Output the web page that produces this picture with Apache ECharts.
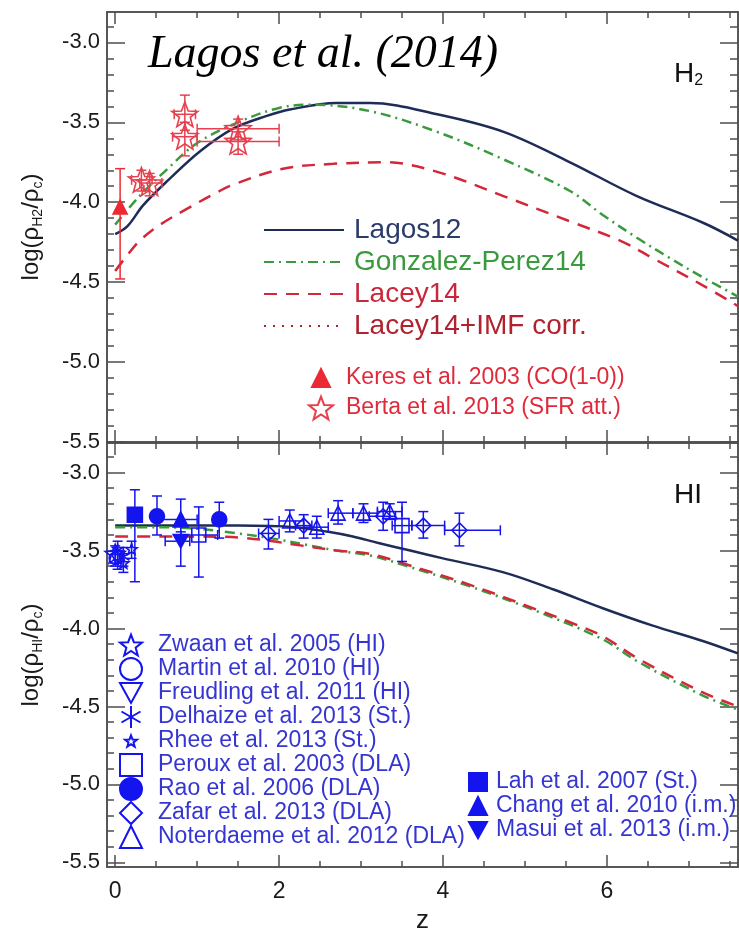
<!DOCTYPE html>
<html>
<head>
<meta charset="utf-8">
<script src="https://cdn.jsdelivr.net/npm/echarts@6/dist/echarts.min.js"></script>
<style>
  html, body { margin: 0; padding: 0; background: #ffffff; }
  #chart { width: 739px; height: 935px; }
</style>
</head>
<body>
<div id="chart"></div>
<script>
// ---------- axis ticks ----------
const xMajorTicks = [0, 2, 4, 6];
const xMinorTicks = [0.5, 1, 1.5, 2.5, 3, 3.5, 4.5, 5, 5.5, 6.5, 7, 7.5];
const yMajorTicks = [-5.5, -5.0, -4.5, -4.0, -3.5, -3.0];
const yMinorTicks = [-5.4, -5.3, -5.2, -5.1, -4.9, -4.8, -4.7, -4.6, -4.4, -4.3, -4.2, -4.1,
                     -3.9, -3.8, -3.7, -3.6, -3.4, -3.3, -3.2, -3.1, -2.9];

// ---------- model curves: H2 panel ----------
const lagosH2Z = [0, 0.15, 0.34, 0.63, 1.04, 1.44, 1.85, 2.13, 2.7, 3.11, 3.93, 4.74, 5.55, 6.36, 7.18, 7.6];
const lagosH2  = [-4.20, -4.15, -4.02, -3.87, -3.68, -3.54, -3.46, -3.42, -3.38, -3.38, -3.45, -3.56, -3.75, -3.96, -4.13, -4.24];
const gonzH2Z  = [0, 0.3, 0.6, 1.0, 1.5, 2.0, 2.4, 3.11, 3.93, 4.73, 5.55, 5.95, 6.36, 6.77, 7.17, 7.6];
const gonzH2   = [-4.14, -3.96, -3.81, -3.63, -3.50, -3.41, -3.39, -3.43, -3.56, -3.73, -3.93, -4.08, -4.22, -4.35, -4.47, -4.59];
const laceyH2Z = [0, 0.15, 0.3, 0.55, 0.88, 1.2, 1.44, 2.05, 2.66, 3.3, 3.93, 4.73, 5.55, 6.16, 6.56, 7.17, 7.6];
const laceyH2  = [-4.43, -4.33, -4.24, -4.14, -4.04, -3.95, -3.89, -3.79, -3.76, -3.75, -3.81, -3.96, -4.12, -4.24, -4.35, -4.52, -4.65];
const laceyImfH2Z = [];
const laceyImfH2  = [];

// ---------- model curves: HI panel ----------
const lagosHIZ = [0, 1, 1.5, 2.2, 2.6, 2.9, 3.2, 3.6, 4.0, 4.74, 5.35, 5.95, 6.55, 7.17, 7.6];
const lagosHI  = [-3.34, -3.34, -3.34, -3.35, -3.38, -3.41, -3.45, -3.50, -3.55, -3.64, -3.75, -3.87, -3.98, -4.08, -4.16];
const gonzHIZ  = [0, 0.5, 1.0, 1.5, 2.0, 2.3, 2.7, 3.1, 3.5, 4.33, 5.15, 5.95, 6.37, 7.17, 7.6];
const gonzHI   = [-3.35, -3.35, -3.36, -3.39, -3.43, -3.46, -3.50, -3.53, -3.59, -3.73, -3.89, -4.07, -4.21, -4.43, -4.52];
const laceyHIZ = [0, 0.5, 1.0, 1.6, 2.3, 2.7, 3.1, 3.5, 4.33, 5.15, 5.55, 5.95, 6.37, 7.17, 7.6];
const laceyHI  = [-3.41, -3.41, -3.41, -3.42, -3.47, -3.50, -3.52, -3.58, -3.72, -3.88, -3.96, -4.05, -4.19, -4.41, -4.50];

// ---------- observations: rows are [z, value, zLow, zHigh, valueLow, valueHigh] ----------
const keresH2 = [[0.06, -4.03, 0.06, 0.06, -4.48, -3.79]];
const bertaH2 = [
  [0.32, -3.86, 0.20, 0.45, -3.93, -3.80],
  [0.42, -3.88, 0.30, 0.57, -3.96, -3.82],
  [0.85, -3.45, 0.72, 0.98, -3.55, -3.33],
  [0.85, -3.59, 0.70, 1.00, -3.71, -3.50],
  [1.50, -3.54, 1.00, 2.00, -3.61, -3.48],
  [1.50, -3.62, 1.00, 2.00, -3.70, -3.56]
];
const zwaanHI     = [[0.00, -3.52, 0.00, 0.00, -3.58, -3.47]];
const martinHI    = [[0.00, -3.55, 0.00, 0.00, -3.60, -3.50]];
const freudlingHI = [[0.03, -3.56, 0.03, 0.03, -3.62, -3.50]];
const delhaizeHI  = [[0.03, -3.50, 0.03, 0.03, -3.56, -3.44], [0.10, -3.54, 0.10, 0.10, -3.60, -3.48]];
const rheeHI      = [[0.10, -3.58, 0.10, 0.10, -3.64, -3.52], [0.20, -3.49, 0.20, 0.20, -3.55, -3.44]];
const perouxHI    = [[1.02, -3.40, 0.80, 1.25, -3.67, -3.22], [3.50, -3.34, 3.38, 3.62, -3.57, -3.19]];
const raoHI       = [[0.51, -3.28, 0.51, 0.51, -3.40, -3.15], [1.27, -3.30, 1.27, 1.27, -3.42, -3.19]];
const zafarHI     = [
  [1.87, -3.39, 1.75, 2.00, -3.49, -3.30],
  [2.30, -3.34, 2.20, 2.40, -3.42, -3.27],
  [3.27, -3.28, 3.10, 3.42, -3.37, -3.19],
  [3.76, -3.34, 3.62, 4.02, -3.42, -3.25],
  [4.20, -3.37, 4.02, 4.70, -3.47, -3.26]
];
const noterdaemeHI = [
  [2.13, -3.31, 2.00, 2.30, -3.38, -3.24],
  [2.46, -3.35, 2.30, 2.60, -3.42, -3.28],
  [2.72, -3.26, 2.60, 2.90, -3.33, -3.18],
  [3.03, -3.26, 2.90, 3.20, -3.32, -3.20],
  [3.35, -3.25, 3.20, 3.50, -3.30, -3.20]
];
const lahHI   = [[0.24, -3.27, 0.24, 0.24, -3.70, -3.11]];
const changHI = [[0.80, -3.30, 0.53, 1.00, -3.41, -3.17]];
const masuiHI = [[0.80, -3.44, 0.61, 0.91, -3.60, -3.38]];

// ---------- styling ----------
const FONT = '"Liberation Sans", Arial, Helvetica, sans-serif';
const AXIS = '#4d4d4d';
const NAVY = '#1f2c57';
const GREEN = '#3a9a3e';
const RED = '#d3283a';
const DARKRED = '#b0222e';
const DATA_RED = '#ec2a33';
const STAR_RED = '#e6404e';
const TEXT_RED = '#e02a3c';
const BLUE = '#1414ee';
const TEXT_BLUE = '#3535d2';
const X_MIN = -0.1, X_MAX = 7.6;

function starPath(inner) {
  const pts = [];
  for (let i = 0; i < 10; i++) {
    const r = i % 2 === 0 ? 10 : 10 * inner;
    const a = -Math.PI / 2 + i * Math.PI / 5;
    pts.push((r * Math.cos(a)).toFixed(2) + ',' + (r * Math.sin(a)).toFixed(2));
  }
  return 'path://M' + pts.join('L') + 'Z';
}
const STAR = starPath(0.42);
const ASTERISK = 'path://M0,-10L0,10M-8.66,-5L8.66,5M-8.66,5L8.66,-5';
const TRI_DOWN = 'path://M0,0L10,0L5,9Z';

// ---------- axes ----------
function xAxisDef(grid, position, ticks, len, withLabels) {
  const ax = {
    type: 'value', gridIndex: grid, position: position, min: X_MIN, max: X_MAX,
    axisLine: { show: true, onZero: false, lineStyle: { color: AXIS, width: 1.5 } },
    axisTick: { show: true, inside: true, length: len, customValues: ticks,
                lineStyle: { color: AXIS, width: 1.5 } },
    axisLabel: { show: false },
    splitLine: { show: false }
  };
  if (withLabels) {
    ax.axisLabel = { show: true, customValues: xMajorTicks, margin: 13,
                     fontFamily: FONT, fontSize: 23, color: '#1a1a1a' };
    ax.name = 'z';
    ax.nameLocation = 'middle';
    ax.nameGap = 41;
    ax.nameTextStyle = { fontFamily: FONT, fontSize: 26, color: '#1a1a1a' };
  }
  return ax;
}
function yAxisDef(grid, position, ticks, len, min, withLabels, title) {
  const ax = {
    type: 'value', gridIndex: grid, position: position, min: min, max: -2.81,
    axisLine: { show: true, onZero: false, lineStyle: { color: AXIS, width: 1.5 } },
    axisTick: { show: true, inside: true, length: len, customValues: ticks,
                lineStyle: { color: AXIS, width: 1.5 } },
    axisLabel: { show: false },
    splitLine: { show: false }
  };
  if (withLabels) {
    ax.axisLabel = { show: true, customValues: yMajorTicks, margin: 7,
                     fontFamily: FONT, fontSize: 22, color: '#1a1a1a',
                     formatter: v => v.toFixed(1) };
    ax.name = title;
    ax.nameLocation = 'middle';
    ax.nameGap = 62;
    ax.nameTextStyle = {
      rich: {
        n: { fontFamily: FONT, fontSize: 24, color: '#1a1a1a', lineHeight: 28 },
        s: { fontFamily: FONT, fontSize: 14, color: '#1a1a1a', lineHeight: 12, verticalAlign: 'bottom' }
      }
    };
  }
  return ax;
}

const xAxes = [], yAxes = [];
[0, 1].forEach(g => {
  xAxes.push(xAxisDef(g, 'bottom', xMajorTicks, 12, g === 1));
  xAxes.push(xAxisDef(g, 'bottom', xMinorTicks, 6, false));
  xAxes.push(xAxisDef(g, 'top', xMajorTicks, 12, false));
  xAxes.push(xAxisDef(g, 'top', xMinorTicks, 6, false));
  const yMin = g === 0 ? -5.5 : -5.53;
  const title = g === 0 ? '{n|log(ρ}{s|H2}{n|/ρ}{s|c}{n|)}' : '{n|log(ρ}{s|HI}{n|/ρ}{s|c}{n|)}';
  yAxes.push(yAxisDef(g, 'left', yMajorTicks, 18, yMin, true, title));
  yAxes.push(yAxisDef(g, 'left', yMinorTicks, 7, yMin, false));
  yAxes.push(yAxisDef(g, 'right', yMajorTicks, 18, yMin, false));
  yAxes.push(yAxisDef(g, 'right', yMinorTicks, 8, yMin, false));
});

// ---------- series builders ----------
function lineSeries(name, zs, vs, color, dash, g) {
  return {
    type: 'line', name: name, xAxisIndex: g * 4, yAxisIndex: g * 4,
    data: zs.map((z, i) => [z, vs[i]]),
    symbol: 'none', smooth: 0.35, silent: true, z: 3,
    lineStyle: { color: color, width: 2.5, type: dash, cap: 'butt' },
    itemStyle: { color: color }
  };
}
function pointSeries(name, rows, symbol, size, fill, stroke, g) {
  return {
    type: 'scatter', name: name, xAxisIndex: g * 4, yAxisIndex: g * 4,
    data: rows.map(r => [r[0], r[1]]),
    symbol: symbol, symbolSize: size, symbolKeepAspect: true, silent: true, z: 5,
    itemStyle: { color: fill, borderColor: stroke, borderWidth: 1.6, opacity: 1 }
  };
}
function errorSeries(name, rows, color, g) {
  return {
    type: 'custom', name: name, xAxisIndex: g * 4, yAxisIndex: g * 4,
    data: rows, encode: { x: 0, y: 1 }, silent: true, z: 4,
    renderItem: function (params, api) {
      const z = api.value(0), v = api.value(1);
      const zLo = api.value(2), zHi = api.value(3), vLo = api.value(4), vHi = api.value(5);
      const cap = 5;
      const kids = [];
      const seg = (x1, y1, x2, y2) => kids.push({
        type: 'line', shape: { x1: x1, y1: y1, x2: x2, y2: y2 },
        style: { stroke: color, lineWidth: 1.5, fill: null }
      });
      if (vLo !== vHi) {
        const a = api.coord([z, vLo]), b = api.coord([z, vHi]);
        seg(a[0], a[1], b[0], b[1]);
        seg(a[0] - cap, a[1], a[0] + cap, a[1]);
        seg(b[0] - cap, b[1], b[0] + cap, b[1]);
      }
      if (zLo !== zHi) {
        const a = api.coord([zLo, v]), b = api.coord([zHi, v]);
        seg(a[0], a[1], b[0], b[1]);
        seg(a[0], a[1] - cap, a[0], a[1] + cap);
        seg(b[0], b[1] - cap, b[0], b[1] + cap);
      }
      return { type: 'group', children: kids };
    }
  };
}

const DASH_GREEN = [10, 5, 2, 5];
const DASH_RED = [13, 9];
const DOTS = [2, 7];
const OPEN = 'rgba(0,0,0,0)';

const series = [
  // H2 panel
  lineSeries('Lagos12', lagosH2Z, lagosH2, NAVY, 'solid', 0),
  lineSeries('Gonzalez-Perez14', gonzH2Z, gonzH2, GREEN, DASH_GREEN, 0),
  lineSeries('Lacey14', laceyH2Z, laceyH2, RED, DASH_RED, 0),
  lineSeries('Lacey14+IMF corr.', laceyImfH2Z, laceyImfH2, DARKRED, DOTS, 0),
  errorSeries('Keres errors', keresH2, DATA_RED, 0),
  errorSeries('Berta errors', bertaH2, STAR_RED, 0),
  pointSeries('Keres et al. 2003 (CO(1-0))', keresH2, 'triangle', 14, DATA_RED, DATA_RED, 0),
  pointSeries('Berta et al. 2013 (SFR att.)', bertaH2, STAR, 26, OPEN, STAR_RED, 0),
  // HI panel
  lineSeries('Lagos12', lagosHIZ, lagosHI, NAVY, 'solid', 1),
  lineSeries('Gonzalez-Perez14', gonzHIZ, gonzHI, GREEN, DASH_GREEN, 1),
  lineSeries('Lacey14', laceyHIZ, laceyHI, RED, DASH_RED, 1),
  errorSeries('Zwaan errors', zwaanHI, BLUE, 1),
  errorSeries('Martin errors', martinHI, BLUE, 1),
  errorSeries('Freudling errors', freudlingHI, BLUE, 1),
  errorSeries('Delhaize errors', delhaizeHI, BLUE, 1),
  errorSeries('Rhee errors', rheeHI, BLUE, 1),
  errorSeries('Peroux errors', perouxHI, BLUE, 1),
  errorSeries('Rao errors', raoHI, BLUE, 1),
  errorSeries('Zafar errors', zafarHI, BLUE, 1),
  errorSeries('Noterdaeme errors', noterdaemeHI, BLUE, 1),
  errorSeries('Lah errors', lahHI, BLUE, 1),
  errorSeries('Chang errors', changHI, BLUE, 1),
  errorSeries('Masui errors', masuiHI, BLUE, 1),
  pointSeries('Zwaan et al. 2005 (HI)', zwaanHI, STAR, 20, OPEN, BLUE, 1),
  pointSeries('Martin et al. 2010 (HI)', martinHI, 'circle', 12, OPEN, BLUE, 1),
  pointSeries('Freudling et al. 2011 (HI)', freudlingHI, TRI_DOWN, 12, OPEN, BLUE, 1),
  pointSeries('Delhaize et al. 2013 (St.)', delhaizeHI, ASTERISK, 14, OPEN, BLUE, 1),
  pointSeries('Rhee et al. 2013 (St.)', rheeHI, STAR, 11, OPEN, BLUE, 1),
  pointSeries('Peroux et al. 2003 (DLA)', perouxHI, 'rect', 14, OPEN, BLUE, 1),
  pointSeries('Rao et al. 2006 (DLA)', raoHI, 'circle', 15, BLUE, BLUE, 1),
  pointSeries('Zafar et al. 2013 (DLA)', zafarHI, 'diamond', 15, OPEN, BLUE, 1),
  pointSeries('Noterdaeme et al. 2012 (DLA)', noterdaemeHI, 'triangle', 14, OPEN, BLUE, 1),
  pointSeries('Lah et al. 2007 (St.)', lahHI, 'rect', 15, BLUE, BLUE, 1),
  pointSeries('Chang et al. 2010 (i.m.)', changHI, 'triangle', 15, BLUE, BLUE, 1),
  pointSeries('Masui et al. 2013 (i.m.)', masuiHI, TRI_DOWN, 15, BLUE, BLUE, 1)
];

// ---------- legends ----------
function legendDef(names, color, left, top, iconW, iconH, fontSize, lineHeight, textGap, lineOnly) {
  return {
    orient: 'vertical', left: left, top: top, padding: 0,
    itemWidth: iconW, itemHeight: iconH, itemGap: 0, selectedMode: false,
    data: names.map((n, i) => {
      const item = { name: n, textStyle: { color: Array.isArray(color) ? color[i] : color } };
      // line keys show only the stroke pattern, without a marker in the middle
      if (lineOnly) item.itemStyle = { opacity: 0 };
      return item;
    }),
    textStyle: { fontFamily: FONT, fontSize: fontSize, lineHeight: lineHeight, padding: [0, 0, 0, textGap] }
  };
}
const legends = [
  legendDef(['Lagos12', 'Gonzalez-Perez14', 'Lacey14', 'Lacey14+IMF corr.'],
            ['#2c3b6b', GREEN, '#c8283a', '#b0222e'], 263, 214, 80, 14, 28, 32, 5, true),
  legendDef(['Keres et al. 2003 (CO(1-0))'], TEXT_RED, 311, 363, 18, 18, 23, 30, 11),
  legendDef(['Berta et al. 2013 (SFR att.)'], TEXT_RED, 308, 393, 24, 24, 23, 30, 8),
  legendDef(['Zwaan et al. 2005 (HI)', 'Martin et al. 2010 (HI)', 'Freudling et al. 2011 (HI)',
             'Delhaize et al. 2013 (St.)'], TEXT_BLUE, 119, 633, 22, 22, 23, 24, 11),
  legendDef(['Rhee et al. 2013 (St.)'], TEXT_BLUE, 124, 729, 12, 12, 23, 24, 16),
  legendDef(['Peroux et al. 2003 (DLA)', 'Rao et al. 2006 (DLA)', 'Zafar et al. 2013 (DLA)',
             'Noterdaeme et al. 2012 (DLA)'], TEXT_BLUE, 119, 753, 22, 22, 23, 24, 11),
  legendDef(['Lah et al. 2007 (St.)', 'Chang et al. 2010 (i.m.)', 'Masui et al. 2013 (i.m.)'],
            TEXT_BLUE, 468, 770, 18, 18, 23, 24, 4)
];

// ---------- panel labels ----------
const graphics = [
  { type: 'text', x: 148, y: 55, silent: true,
    style: { text: 'Lagos et al. (2014)', font: 'italic 46px "Liberation Serif", "Times New Roman", serif',
             fill: '#000000', verticalAlign: 'middle' } },
  { type: 'text', x: 674, y: 74, silent: true,
    style: { text: '{h|H}{s|2}', verticalAlign: 'middle',
             rich: { h: { fontFamily: FONT, fontSize: 28, lineHeight: 30, fill: '#111111' },
                     s: { fontFamily: FONT, fontSize: 16, lineHeight: 12, fill: '#111111', verticalAlign: 'bottom' } } } },
  { type: 'text', x: 674, y: 495, silent: true,
    style: { text: 'HI', font: '28px "Liberation Sans", Arial, sans-serif', fill: '#111111', verticalAlign: 'middle' } }
];

const chart = echarts.init(document.getElementById('chart'), null, { renderer: 'canvas' });
chart.setOption({
  animation: false,
  backgroundColor: '#ffffff',
  grid: [
    { left: 107, top: 12, width: 631, height: 430 },
    { left: 107, top: 443, width: 631, height: 429 }
  ],
  xAxis: xAxes,
  yAxis: yAxes,
  legend: legends,
  graphic: graphics,
  series: series
});
</script>
</body>
</html>
